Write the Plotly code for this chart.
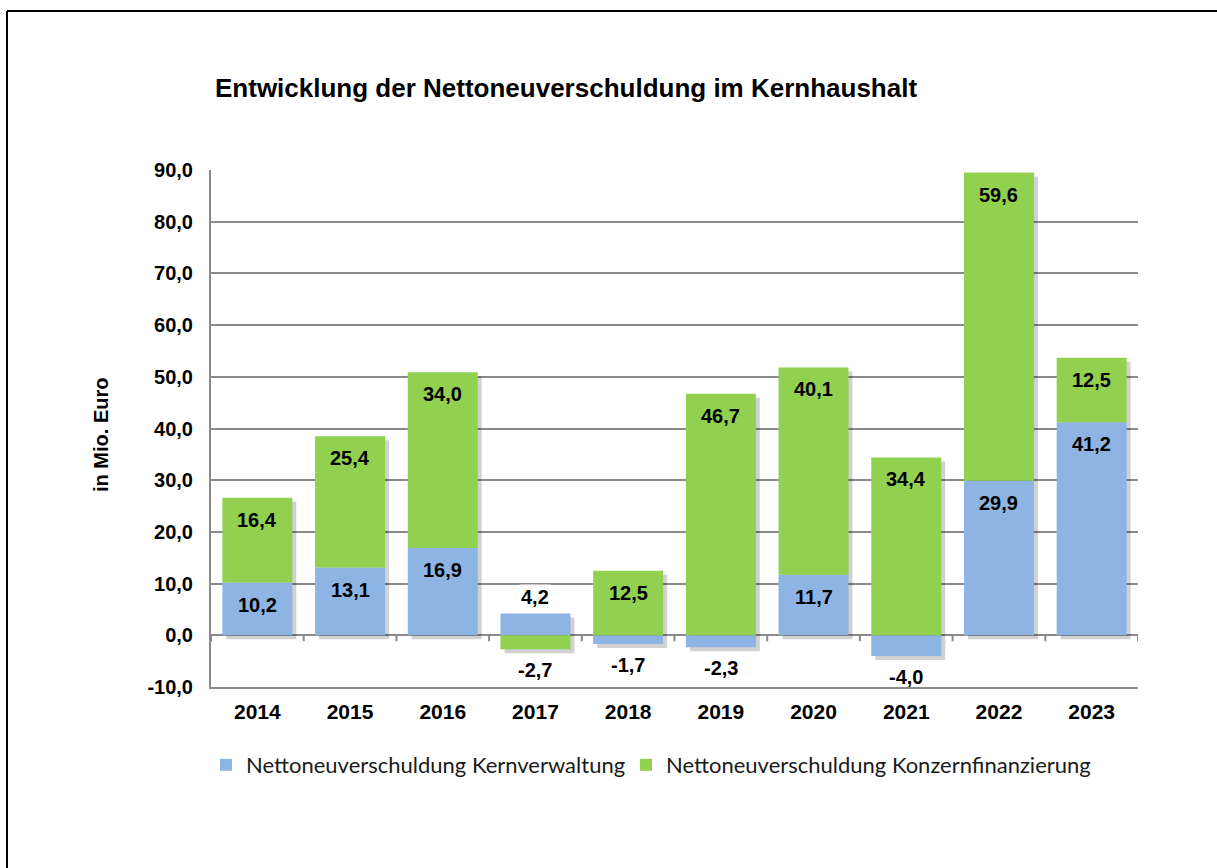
import plotly.graph_objects as go

years = ["2014", "2015", "2016", "2017", "2018", "2019", "2020", "2021", "2022", "2023"]
kernverwaltung = [10.2, 13.1, 16.9, 4.2, -1.7, -2.3, 11.7, -4.0, 29.9, 41.2]
konzernfinanzierung = [16.4, 25.4, 34.0, -2.7, 12.5, 46.7, 40.1, 34.4, 59.6, 12.5]

series = [
    ("Nettoneuverschuldung Kernverwaltung", kernverwaltung, "#8db4e2", "legend"),
    ("Nettoneuverschuldung Konzernfinanzierung", konzernfinanzierung, "#92d050", "legend2"),
]

W, H = 1217, 868
L, R, T, B = 211, 79, 170, 181
pw, ph = W - L - R, H - T - B
ymin, ymax = -10, 90
grid = "#8a8a8a"
bold = dict(family="Liberation Sans, Arial, sans-serif", size=20, color="black", weight="bold")
SH = 4  # shadow offset in px


def fmt(v):
    return f"{v:.1f}".replace(".", ",")


fig = go.Figure()

# shadow: same bars on the base axes, whose range is shifted a few pixels
for name, vals, col, lg in series:
    fig.add_trace(go.Bar(x=years, y=vals, marker_color="rgba(0,0,0,0.18)", marker_line_width=0,
                         showlegend=False, hoverinfo="skip", xaxis="x", yaxis="y"))
# real bars on the overlaid axes (drawn on top)
for name, vals, col, lg in series:
    fig.add_trace(go.Bar(x=years, y=vals, name=name, marker_color=col, marker_line_width=0,
                         xaxis="x2", yaxis="y2", legend=lg))

# value labels (placed on the base axes, shifted back by the shadow offset)
pos = [0.0] * len(years)
neg = [0.0] * len(years)
for name, vals, col, lg in series:
    for i, v in enumerate(vals):
        if v >= 0:
            top = pos[i] + v
            pos[i] = top
            if v < 6:
                fig.add_annotation(x=i, y=top, text=fmt(v), showarrow=False, yanchor="bottom",
                                   xshift=-SH, yshift=SH + 4, bgcolor="white", font=bold)
            else:
                fig.add_annotation(x=i, y=top, text=fmt(v), showarrow=False, yanchor="top",
                                   xshift=-SH, yshift=SH - 9, font=bold)
        else:
            bottom = neg[i] + v
            neg[i] = bottom
            fig.add_annotation(x=i, y=bottom, text=fmt(v), showarrow=False, yanchor="top",
                               xshift=-SH, yshift=SH - 8, font=bold)

# little tick marks under the zero line between the years
for i in range(len(years) + 1):
    fig.add_shape(type="line", xref="x2", yref="y2", x0=i - 0.5, x1=i - 0.5, ysizemode="pixel",
                  yanchor=0, y0=0, y1=-6, line=dict(color=grid, width=2))

dx = SH / (pw / len(years))
dy = SH / (ph / (ymax - ymin))
legend_font = dict(family="Lato, Carlito, sans-serif", size=22, color="#1a1a1a")
legend_y = (T + ph - 765) / ph
fig.update_layout(
    width=W, height=H,
    margin=dict(l=L, r=R, t=T, b=B),
    paper_bgcolor="white", plot_bgcolor="white",
    barmode="relative", bargap=0.245,
    title=dict(text="Entwicklung der Nettoneuverschuldung im Kernhaushalt",
               font=dict(family="Liberation Sans, Arial, sans-serif", size=26, color="black", weight="bold"),
               xref="container", x=215 / W, xanchor="left", yref="container", y=1 - 88 / H, yanchor="middle"),
    xaxis=dict(type="category", range=[-0.5 - dx, 9.5 - dx], visible=False),
    yaxis=dict(range=[ymin + dy, ymax + dy], visible=False),
    xaxis2=dict(type="category", overlaying="x", anchor="y2", range=[-0.5, 9.5], showgrid=False,
                showline=True, linecolor=grid, linewidth=2, ticks="", tickfont=dict(bold, size=21),
                ticklabelstandoff=5),
    yaxis2=dict(overlaying="y", anchor="x2", side="left", range=[ymin, ymax],
                tickvals=list(range(ymin, ymax + 1, 10)),
                ticktext=[fmt(v) for v in range(ymin, ymax + 1, 10)],
                showgrid=True, gridcolor=grid, gridwidth=2, zeroline=True, zerolinecolor=grid,
                zerolinewidth=2, showline=True, linecolor=grid, linewidth=2, ticks="",
                tickfont=dict(bold, size=20), ticklabelstandoff=12),
    legend=dict(orientation="h", x=(222 - 16 - L) / pw, xanchor="left", y=legend_y,
                yanchor="middle", font=legend_font, itemclick=False),
    legend2=dict(orientation="h", x=(642 - 16 - L) / pw, xanchor="left", y=legend_y,
                 yanchor="middle", font=legend_font, itemclick=False),
    showlegend=True,
)

fig.add_annotation(text="in Mio. Euro", textangle=-90, showarrow=False, xref="paper", yref="paper",
                   x=(88 - L) / pw, y=(T + ph - 435) / ph, font=dict(bold, size=20))

# outer frame (top and left edge only)
fx0, fx1 = (7 - L) / pw, (W - L) / pw
fy0, fy1 = (T + ph - H) / ph, (T + ph - 11) / ph
fig.add_shape(type="line", xref="paper", yref="paper", x0=fx0, x1=fx1, y0=fy1, y1=fy1,
              line=dict(color="black", width=2))
fig.add_shape(type="line", xref="paper", yref="paper", x0=fx0, x1=fx0, y0=fy0, y1=fy1,
              line=dict(color="black", width=2))

fig.write_html("out.html", config={"displayModeBar": False},
               post_script="document.body.style.margin='0';document.body.style.overflow='hidden';")
